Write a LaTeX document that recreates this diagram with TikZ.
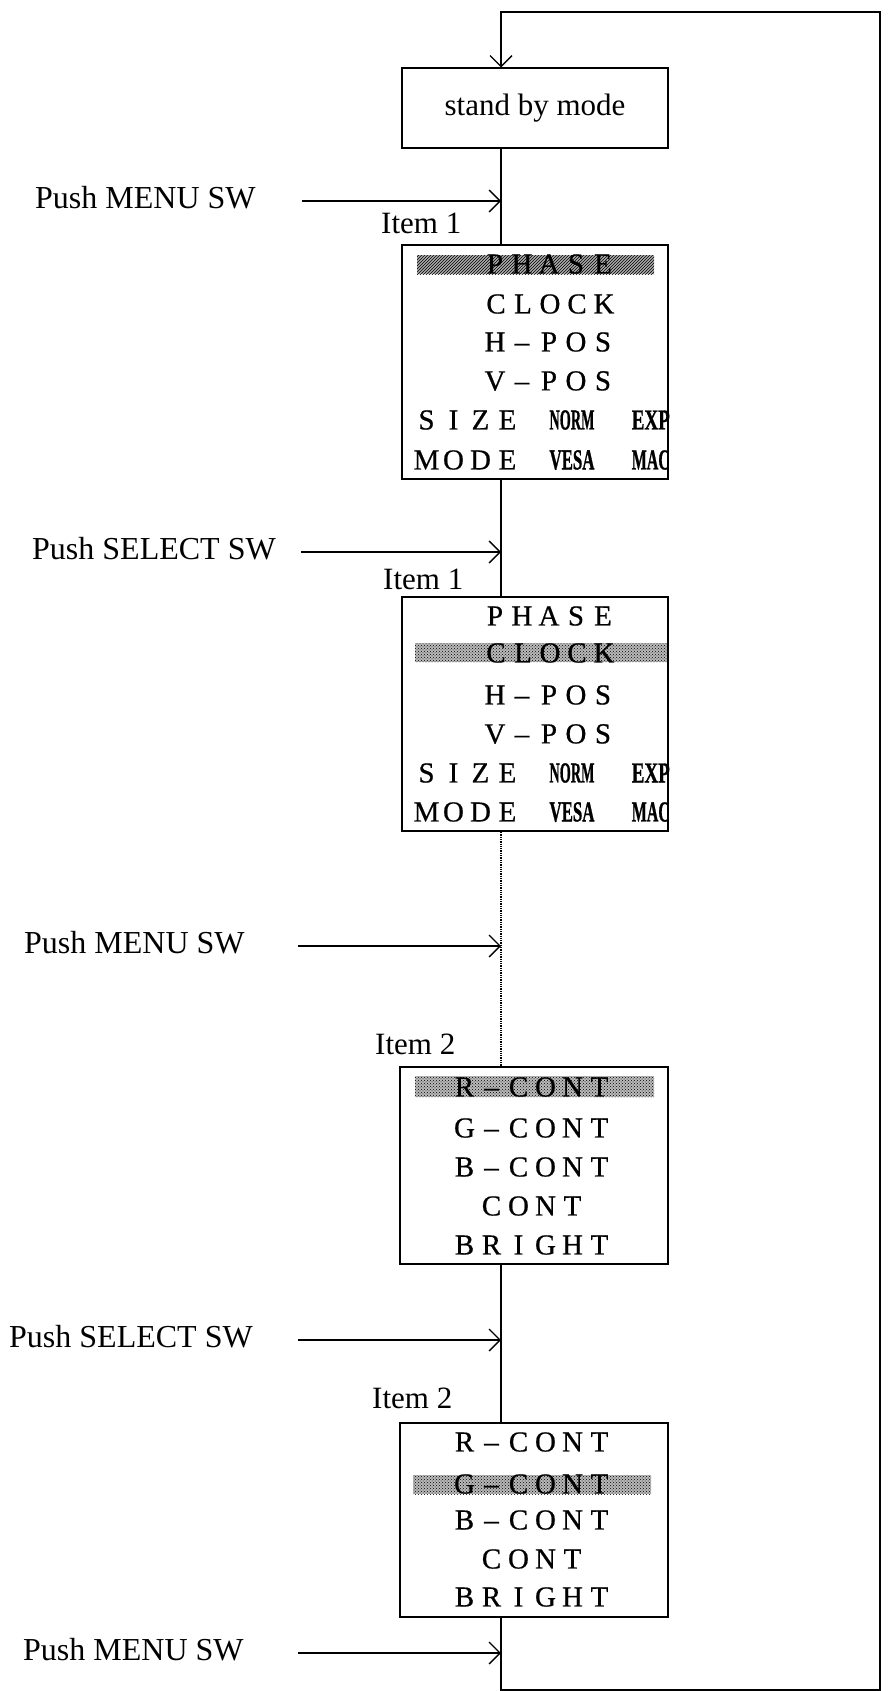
\documentclass[tikz,border=0pt]{standalone}
\usepackage{fontspec}
\setmainfont{Liberation Serif}
\newfontfamily\menufont{Liberation Serif}[FakeBold=0.6]
\newfontfamily\heavyfont{Liberation Serif Bold}[FakeBold=1.2]
\usetikzlibrary{arrows.meta,patterns}
\newcommand\pitchtext[1]{\pitchloop#1\relax}
\def\pitchloop#1{\ifx#1\relax\else\makebox[27pt]{#1}\expandafter\pitchloop\fi}
\newcommand\condensed[2]{\resizebox{#1}{\height}{\heavyfont #2}}
\begin{document}
\begin{tikzpicture}[x=1pt,y=-1pt,
  line/.style={line width=1.3pt},
  arr/.style={line width=1.3pt,-{Straight Barb[length=11pt,width=22pt,line width=1.3pt]}},
  boxn/.style={draw,line width=2pt,inner sep=0pt},
  lbl/.style={font=\fontsize{32}{32}\selectfont,inner sep=0pt,anchor=base west},
  itm/.style={font=\fontsize{31}{31}\selectfont,inner sep=0pt,anchor=base west},
  row/.style={font=\menufont\fontsize{29}{29}\selectfont,inner sep=0pt},
  hlbar/.style={fill=gray!55,postaction={pattern=crosshatch dots,pattern color=black}},
  hlbarb/.style={fill=gray!65,postaction={pattern=north east lines,pattern color=black}}
]
\useasboundingbox (0,0) rectangle (890,1691);
\coordinate (vx) at (501,0);
% stand by
\node[boxn,minimum width=266pt,minimum height=79pt,font=\fontsize{31}{31}\selectfont] (sb) at (535,108) {stand by mode};
% boxes
\node[boxn,minimum width=266pt,minimum height=234pt] (b1) at (535,362) {};
\node[boxn,minimum width=266pt,minimum height=234pt] (b2) at (535,714) {};
\node[boxn,minimum width=268pt,minimum height=197pt] (b3) at (534,1165.5) {};
\node[boxn,minimum width=268pt,minimum height=194pt] (b4) at (534,1520) {};
% highlight bars
\fill[hlbarb] (417,255) rectangle (654,274);
\fill[hlbar] (415,643) rectangle (667,662);
\fill[hlbar] (415,1076) rectangle (654,1097);
\fill[hlbar] (413,1475) rectangle (651,1494);
% box 1 rows
\node[row] (b1r1) at (549,264) {\pitchtext{PHASE}};
\node[row] (b1r2) at (550,304) {\pitchtext{CLOCK}};
\node[row] (b1r3) at (549,342) {\pitchtext{H\textendash POS}};
\node[row] (b1r4) at (549,381) {\pitchtext{V\textendash POS}};
\node[row] (b1r5a) at (467,420) {\pitchtext{SIZE}};
\node[row] (b1r5b) at (572,420) {\condensed{45pt}{NORM}};
\node[row,anchor=east] (b1r5c) at (670,420) {\condensed{38pt}{EXP}};
\node[row] (b1r6a) at (467,460) {\pitchtext{MODE}};
\node[row] (b1r6b) at (572,460) {\condensed{45pt}{VESA}};
\node[row,anchor=east] (b1r6c) at (670,460) {\condensed{38pt}{MAC}};
% box 2 rows
\node[row] (b2r1) at (549,616) {\pitchtext{PHASE}};
\node[row] (b2r2) at (550,653) {\pitchtext{CLOCK}};
\node[row] (b2r3) at (549,695) {\pitchtext{H\textendash POS}};
\node[row] (b2r4) at (549,734) {\pitchtext{V\textendash POS}};
\node[row] (b2r5a) at (467,773) {\pitchtext{SIZE}};
\node[row] (b2r5b) at (572,773) {\condensed{45pt}{NORM}};
\node[row,anchor=east] (b2r5c) at (670,773) {\condensed{38pt}{EXP}};
\node[row] (b2r6a) at (467,812) {\pitchtext{MODE}};
\node[row] (b2r6b) at (572,812) {\condensed{45pt}{VESA}};
\node[row,anchor=east] (b2r6c) at (670,812) {\condensed{38pt}{MAC}};
% box 3 rows
\node[row] (b3r1) at (532,1087) {\pitchtext{R\textendash CONT}};
\node[row] (b3r2) at (532,1128) {\pitchtext{G\textendash CONT}};
\node[row] (b3r3) at (532,1167) {\pitchtext{B\textendash CONT}};
\node[row] (b3r4) at (532,1206) {\pitchtext{CONT}};
\node[row] (b3r5) at (532,1245) {\pitchtext{BRIGHT}};
% box 4 rows
\node[row] (b4r1) at (532,1442) {\pitchtext{R\textendash CONT}};
\node[row] (b4r2) at (532,1484) {\pitchtext{G\textendash CONT}};
\node[row] (b4r3) at (532,1520) {\pitchtext{B\textendash CONT}};
\node[row] (b4r4) at (532,1559) {\pitchtext{CONT}};
\node[row] (b4r5) at (532,1597) {\pitchtext{BRIGHT}};
% item labels
\node[itm] (i1) at (381,233) {Item 1};
\node[itm] (i2) at (383,589) {Item 1};
\node[itm] (i3) at (375,1054) {Item 2};
\node[itm] (i4) at (372,1408) {Item 2};
% push labels
\node[lbl] (l1) at (35,208) {Push MENU SW};
\node[lbl] (l2) at (32,559) {Push SELECT SW};
\node[lbl] (l3) at (24,953) {Push MENU SW};
\node[lbl] (l4) at (9,1347) {Push SELECT SW};
\node[lbl] (l5) at (23,1660) {Push MENU SW};
% arrow starts
\coordinate (s1) at (302,201);
\coordinate (s2) at (301,552);
\coordinate (s3) at (298,946);
\coordinate (s4) at (298,1340);
\coordinate (s5) at (298,1653);
\draw[arr] (s1) -- (s1 -| vx);
\draw[arr] (s2) -- (s2 -| vx);
\draw[arr] (s3) -- (s3 -| vx);
\draw[arr] (s4) -- (s4 -| vx);
\draw[arr] (s5) -- (s5 -| vx);
% loop corners
\coordinate (cbl) at (501,1690);
\coordinate (cbr) at (880,1690);
\coordinate (ctr) at (880,12);
\coordinate (ctl) at (501,12);
% vertical flow
\draw[line] (sb.south -| vx) -- (b1.north -| vx);
\draw[line] (b1.south -| vx) -- (b2.north -| vx);
\draw[line,densely dotted] (b2.south -| vx) -- (b3.north -| vx);
\draw[line] (b3.south -| vx) -- (b4.north -| vx);
\draw[arr] (b4.south -| vx) -- (cbl) -- (cbr) -- (ctr) -- (ctl) -- (sb.north -| vx);
\end{tikzpicture}
\end{document}
